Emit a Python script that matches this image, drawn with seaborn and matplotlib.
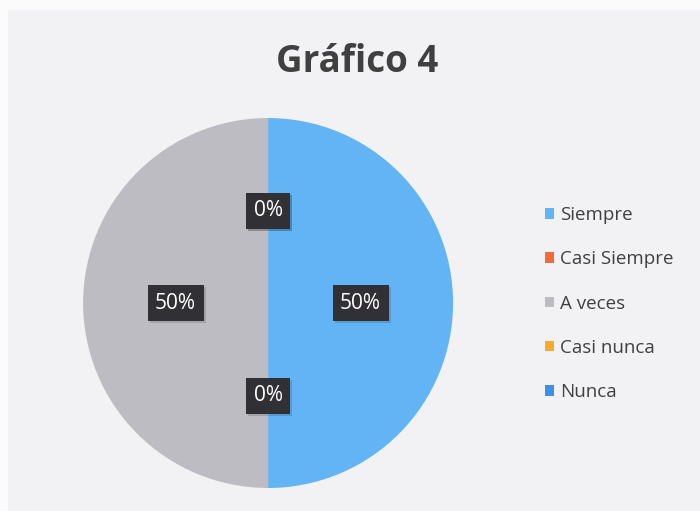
import seaborn as sns
import matplotlib.pyplot as plt
import matplotlib.patheffects as pe
from matplotlib.patches import Patch, Rectangle

categories = ['Siempre', 'Casi Siempre', 'A veces', 'Casi nunca', 'Nunca']
values = [50, 0, 50, 0, 0]
colors = ['#62b4f4', '#ef6b3b', '#bdbcc2', '#f6a92a', '#3f8fe6']

sns.set_theme(style="white")
plt.rcParams['font.family'] = ['Open Sans', 'DejaVu Sans']

bg = '#f2f2f5'
fig = plt.figure(figsize=(7, 5.11), dpi=100, facecolor='#fbfbfc')
# photo-like panel, with a thin lighter strip at top and left
fig.patches.append(Rectangle((8 / 700, 0), 1, 1 - 10 / 511, transform=fig.transFigure,
                             facecolor=bg, edgecolor='none', zorder=-10))

ax = fig.add_axes([0.1185, 0.045, 0.529, 0.724])
ax.set_facecolor('none')

wedges, texts, autotexts = ax.pie(
    values, colors=colors, startangle=90, counterclock=False,
    autopct='%1.0f%%', pctdistance=0.5,
    wedgeprops={'linewidth': 0},
    textprops={'color': 'white', 'fontsize': 15})
for t in autotexts:
    t.set_bbox(dict(boxstyle='square,pad=0.36', facecolor='#313135', edgecolor='none'))
    t.get_bbox_patch().set_path_effects(
        [pe.SimplePatchShadow(offset=(1.5, -1.5), alpha=0.15), pe.Normal()])
ax.set_xlim(-1, 1)
ax.set_ylim(-1, 1)
ax.set_aspect('equal')

fig.text(0.51, 0.878, 'Gráfico 4', ha='center', va='center',
         fontsize=26.5, fontweight='bold', color='#404040')

handles = [Patch(facecolor=c, edgecolor='none') for c in colors]
fig.legend(handles, categories, loc='center left', bbox_to_anchor=(0.754, 0.406),
           frameon=False, fontsize=13.5, labelcolor='#404040',
           handlelength=0.5, handleheight=0.5, handletextpad=0.3,
           labelspacing=1.4)

fig.savefig('out.png', dpi=100, facecolor=fig.get_facecolor())
